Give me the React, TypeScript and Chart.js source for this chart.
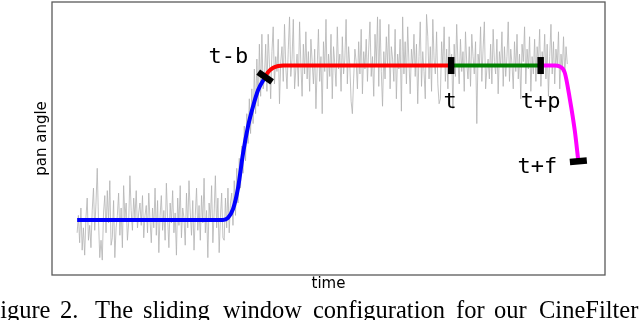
import React, { useEffect, useRef } from "react";
import { Chart, registerables } from "chart.js";

Chart.register(...registerables);

// ---- data ----
const noiseStart = 0;
const noiseStep = 0.25;
const noiseAngle = [
  // low plateau
  12, 19, 8, 22, 5, 14, 3, 18, 26, 9, 15, 6, 21, 30, 13, 24, 38, 17, 2, 9,
  1, 20, 27, 12, 29, 16, 33, 7, 10, 25, 2, 14, 19, 28, 11, 22, 6, 31, 18, 24,
  9, 16, 35, 21, 13, 26, 18, 29, 14, 20, 24, 15, 27, 10, 19, 23, 12, 28, 17, 8,
  22, 14, 30, 11, 25, 4, 19, 27, 13, 21, 9, 32, 18, 6, 24, 16, 29, 12, 20, 3,
  26, 15, 31, 10, 22, 18, 7, 28, 14, 33, 20, 11, 25, 5, 19, 30, 13, 23, 9, 27,
  16, 34, 12, 21, 2, 24, 17, 31, 8, 20, 35, 14, 26, 4, 18, 28, 10,
  // rise
  9, 26, 14, 30, 12, 24, 28, 15, 33, 19, 38, 24, 42, 30, 47, 36, 55, 41, 60, 48,
  66, 52, 70, 56, 78, 60, 82, 63, 88, 67, 92, 70,
  // high plateau
  74, 88, 69, 92, 80, 66, 85, 95, 72, 83, 77, 90, 64, 81, 87, 73, 96, 79, 70, 86,
  99, 75, 82, 98, 70, 78, 84, 71, 97, 80, 67, 88, 76, 93, 74, 85, 69, 90, 81, 72,
  86, 62, 79, 94, 73, 83, 60, 89, 77, 98, 70, 84, 75, 92, 66, 87, 80, 71, 95, 78,
  84, 69, 91, 76, 82, 98, 72, 87, 79, 65, 60, 74, 86, 81, 70, 89, 76, 94, 68, 85,
  78, 90, 73, 86, 97, 75, 83, 67, 92, 80, 99, 71, 98, 77, 63, 85, 74, 91, 79, 96,
  70, 87, 82, 73, 94, 66, 84, 78, 90, 61, 99, 76, 89, 72, 95, 81, 68, 86, 79, 92,
  75, 88, 64, 83, 97, 71, 85, 77, 66, 100, 91, 74, 87, 69, 98, 82, 76, 93, 72, 64,
  66, 89, 79, 95, 73, 86, 70, 91, 78, 84, 62, 88, 75, 96, 81, 72, 90, 77, 85, 69,
  93, 80, 74, 87, 71, 92, 83, 76, 89, 56, 84, 79, 95, 73, 86, 97, 70, 78, 82, 74,
  88, 72, 94, 81, 76, 90, 68, 85, 79, 93, 71, 87, 75, 83, 97, 73, 86, 80, 70, 89,
  77, 92, 74, 84, 66, 88, 81, 95, 72, 86, 78, 91, 69, 83, 76, 90, 73, 87, 80, 94,
  71, 85, 78, 92, 74, 88, 67, 83, 96, 76, 89, 72, 86, 79, 93, 70, 84, 77, 91, 75, 87, 80,
];

const blueTime = [0, 29, 30, 31, 32, 33, 34, 35, 36, 37.4];
const blueAngle = [17.2, 17.2, 18, 21.5, 30, 44, 55, 63, 69.5, 74.8];
const redTime = [37.4, 38, 39, 40, 41, 42, 74.4];
const redAngle = [74.8, 76.8, 78.5, 79.2, 79.4, 79.4, 79.4];
const greenTime = [74.4, 92.2];
const greenAngle = [79.4, 79.4];
const magentaTime = [92.2, 95, 96, 97, 98, 99, 99.7];
const magentaAngle = [79.4, 79.4, 79, 76.5, 66, 53, 40.8];

const markerLabels = ["t-b", "t", "t+p", "t+f"];
const markerTime = [37.4, 74.4, 92.2, 99.7];
const markerAngle = [74.8, 79.4, 79.4, 40.8];

const xTitle = "time";
const yTitle = "pan angle";
const captionWords = ["Figure", "2.", "The", "sliding", "window", "configuration", "for", "our", "CineFilter"];

// ---- layout / style ----
const captionX = [-13.5, 60, 95, 143, 223, 313, 456, 494, 539];
const markerRotation = [35, 90, 90, -5];
const labelOffsets = [
  { dx: -17, dy: -14, align: "right" },
  { dx: -1, dy: 42.5, align: "center" },
  { dx: 0, dy: 42, align: "center" },
  { dx: -21, dy: 11.5, align: "right" },
];

const zip = (xs: number[], ys: number[]) => xs.map((x, i) => ({ x, y: ys[i] }));

const framePlugin = {
  id: "frameBox",
  beforeDatasetsDraw(chart: any) {
    const { ctx, chartArea: a } = chart;
    ctx.save();
    ctx.strokeStyle = "#5a5a5a";
    ctx.lineWidth = 1.3;
    ctx.strokeRect(a.left, a.top, a.right - a.left, a.bottom - a.top);
    ctx.restore();
  },
};

const labelPlugin = {
  id: "markerLabels",
  afterDatasetsDraw(chart: any) {
    const { ctx } = chart;
    const meta = chart.getDatasetMeta(4);
    ctx.save();
    ctx.font = '22px "DejaVu Sans Mono"';
    ctx.fillStyle = "#000";
    ctx.textBaseline = "alphabetic";
    meta.data.forEach((pt: any, i: number) => {
      const o = labelOffsets[i];
      ctx.textAlign = o.align;
      ctx.fillText(markerLabels[i], pt.x + o.dx, pt.y + o.dy);
    });
    ctx.restore();
  },
};

export default function App() {
  const ref = useRef<HTMLCanvasElement | null>(null);

  useEffect(() => {
    if (!ref.current) return;
    const noise = noiseAngle.map((v, i) => ({ x: noiseStart + i * noiseStep, y: v }));
    const curve = (data: any, color: string) => ({
      type: "line",
      data,
      borderColor: color,
      borderWidth: 4,
      pointRadius: 0,
      cubicInterpolationMode: "monotone",
      fill: false,
      order: 5,
    });
    const chart = new Chart(ref.current, {
      type: "line",
      data: {
        datasets: [
          curve(zip(blueTime, blueAngle), "#0000ff"),
          curve(zip(redTime, redAngle), "#ff0000"),
          curve(zip(greenTime, greenAngle), "#008000"),
          curve(zip(magentaTime, magentaAngle), "#ff00ff"),
          {
            type: "scatter",
            data: zip(markerTime, markerAngle),
            pointStyle: "line",
            pointRadius: 8.5,
            pointBorderWidth: 6.5,
            borderWidth: 6.5,
            pointBorderColor: "#000",
            borderColor: "#000",
            pointRotation: markerRotation,
            showLine: false,
            order: 1,
          },
          {
            type: "line",
            data: noise,
            borderColor: "#b3b3b3",
            borderWidth: 0.8,
            pointRadius: 0,
            tension: 0,
            fill: false,
            order: 10,
          },
        ] as any,
      },
      options: {
        animation: false,
        responsive: false,
        devicePixelRatio: 1,
        layout: { autoPadding: false, padding: { left: 33.6, right: 35, top: 2, bottom: 26.4 } },
        plugins: { legend: { display: false }, tooltip: { enabled: false }, title: { display: false } },
        events: [],
        scales: {
          x: {
            type: "linear",
            min: -5,
            max: 105,
            grid: { display: false, drawTicks: false },
            border: { display: false },
            ticks: { display: false },
            title: {
              display: true,
              text: xTitle,
              color: "#000",
              font: { family: "DejaVu Sans", size: 15, lineHeight: 1.2 },
              padding: { top: 0.6, bottom: 0 },
            },
          },
          y: {
            type: "linear",
            min: -5,
            max: 105,
            grid: { display: false, drawTicks: false },
            border: { display: false },
            ticks: { display: false },
            title: {
              display: true,
              text: yTitle,
              color: "#000",
              font: { family: "DejaVu Sans", size: 15, lineHeight: 1.2 },
              padding: { top: 0, bottom: 0.4 },
            },
          },
        },
      } as any,
      plugins: [framePlugin, labelPlugin],
    });
    return () => chart.destroy();
  }, []);

  return (
    <div
      style={{
        position: "fixed",
        left: 0,
        top: 0,
        width: 640,
        height: 320,
        overflow: "hidden",
        background: "#fff",
      }}
    >
      <canvas ref={ref} width={640} height={320} style={{ position: "absolute", left: 0, top: 0 }} />
      <div
        style={{
          position: "absolute",
          left: 0,
          top: 297.5,
          width: 640,
          height: 30,
          fontFamily: '"Liberation Serif", "Times New Roman", serif',
          fontSize: 24.5,
          lineHeight: 1,
          color: "#000",
          whiteSpace: "nowrap",
        }}
      >
        {captionWords.map((w, i) => (
          <span key={i} style={{ position: "absolute", left: captionX[i], top: 0 }}>
            {w}{" "}
          </span>
        ))}
      </div>
    </div>
  );
}
